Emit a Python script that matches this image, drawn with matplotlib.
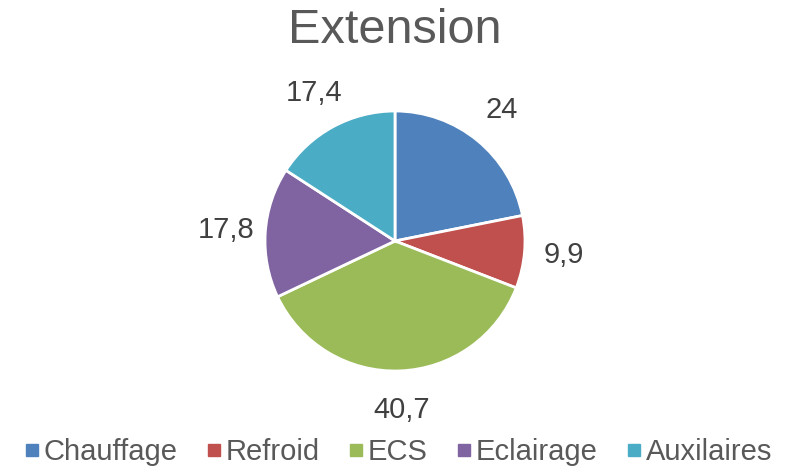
import matplotlib.pyplot as plt
from matplotlib.lines import Line2D

plt.rcParams['font.family'] = ['Liberation Sans', 'DejaVu Sans']

# Données du graphique
categories = ['Chauffage', 'Refroid', 'ECS', 'Eclairage', 'Auxilaires']
values = [24, 9.9, 40.7, 17.8, 17.4]
colors = ['#4F81BD', '#C0504D', '#9BBB59', '#8064A2', '#4BACC6']

labels = [f"{v:g}".replace('.', ',') for v in values]

fig = plt.figure(figsize=(7.94, 4.70), dpi=100)

# Camembert centré à (395, 241) px, rayon 130 px
cx, cy, r = 395, 241, 130
ax = fig.add_axes([(cx - r) / 794, (470 - cy - r) / 470, 2 * r / 794, 2 * r / 470])
wedges, texts = ax.pie(
    values, colors=colors, startangle=90, counterclock=False,
    labels=labels, labeldistance=1.3,
    wedgeprops=dict(edgecolor='white', linewidth=2),
    textprops=dict(fontsize=21, color='#404040'),
)
for t in texts:
    t.set_ha('center')
    t.set_va('center')
ax.set_xlim(-1, 1)
ax.set_ylim(-1, 1)
ax.set_aspect('equal')

fig.text(0.4975, 0.935, 'Extension', ha='center', va='center',
         fontsize=35, color='#595959')

handles = [Line2D([0], [0], marker='s', linestyle='none', markersize=8,
                  markerfacecolor=c, markeredgecolor=c) for c in colors]
fig.legend(handles, categories, loc='center', bbox_to_anchor=(0.5, 0.038),
           ncol=5, frameon=False, fontsize=21, handletextpad=0.05,
           columnspacing=0.9, handlelength=0.7, labelcolor='#595959')

fig.savefig('out.png', dpi=100)
